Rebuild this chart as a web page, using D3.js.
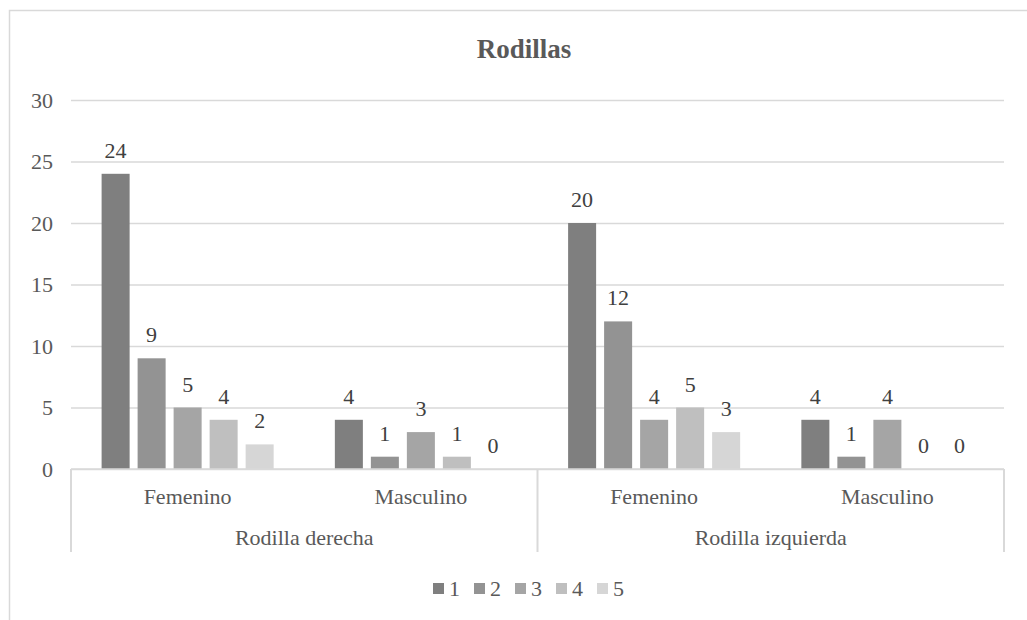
<!DOCTYPE html>
<html>
<head>
<meta charset="utf-8">
<script src="https://cdn.jsdelivr.net/npm/d3@7"></script>
<style>
  html, body { margin: 0; padding: 0; background: #fff; }
</style>
</head>
<body>
<script>
// Chart data
const title = "Rodillas";
const groupLabels = ["Rodilla derecha", "Rodilla izquierda"];
const categoryLabels = ["Femenino", "Masculino", "Femenino", "Masculino"];
const seriesNames = ["1", "2", "3", "4", "5"];
const serie1 = [24, 4, 20, 4];
const serie2 = [9, 1, 12, 1];
const serie3 = [5, 3, 4, 4];
const serie4 = [4, 1, 5, 0];
const serie5 = [2, 0, 3, 0];
const yTicks = [0, 5, 10, 15, 20, 25, 30];

const seriesValues = [serie1, serie2, serie3, serie4, serie5];
const colors = ["#7f7f7f", "#939393", "#a5a5a5", "#bfbfbf", "#d6d6d6"];

const W = 1027, H = 620;
const plot = { left: 71, right: 1004, top: 100, bottom: 469 };
const textColor = "#595959";
const lineColor = "#d9d9d9";
const FONT = "'Liberation Serif'";
const FS = 22;

const svg = d3.select("body").append("svg").attr("width", W).attr("height", H);

function label(g, x, y, txt, opts = {}) {
  return g.append("text")
    .attr("x", x).attr("y", y)
    .attr("text-anchor", opts.anchor || "middle")
    .attr("fill", opts.color || textColor)
    .style("font-family", FONT)
    .style("font-size", (opts.size || FS) + "px")
    .style("font-weight", opts.weight || "normal")
    .text(txt);
}

// Outer chart border
svg.append("rect")
  .attr("x", 9.5).attr("y", 10.5)
  .attr("width", 1040).attr("height", 640)
  .attr("fill", "none").attr("stroke", lineColor).attr("stroke-width", 1.5);

// Scales
const x0 = d3.scaleBand()
  .domain(d3.range(categoryLabels.length))
  .range([plot.left, plot.right])
  .padding(0);

const x1 = d3.scaleBand()
  .domain(seriesNames)
  .range([0, x0.bandwidth()])
  .paddingInner(0.222)
  .paddingOuter(0.85);

const y = d3.scaleLinear().domain([0, 30]).range([plot.bottom, plot.top]);

// Gridlines and value axis labels
const yAxis = d3.axisLeft(y).tickValues(yTicks).tickSize(-(plot.right - plot.left)).tickPadding(18);
const gy = svg.append("g").attr("transform", `translate(${plot.left},0)`).call(yAxis);
gy.attr("font-family", null).attr("font-size", null);
gy.select(".domain").remove();
gy.selectAll(".tick line").attr("stroke", lineColor).attr("stroke-width", 1.5);
gy.selectAll(".tick text")
  .attr("fill", textColor)
  .style("font-family", FONT)
  .style("font-size", FS + "px");

// Bars with value labels
const barsG = svg.append("g");
seriesNames.forEach((s, si) => {
  seriesValues[si].forEach((v, ci) => {
    const bx = x0(ci) + x1(s);
    barsG.append("rect")
      .attr("x", bx)
      .attr("y", y(v))
      .attr("width", x1.bandwidth())
      .attr("height", y(0) - y(v))
      .attr("fill", colors[si]);
    label(barsG, bx + x1.bandwidth() / 2, y(v) - 16, v, { color: "#404040" });
  });
});

// Category axis line
svg.append("line")
  .attr("x1", plot.left).attr("x2", plot.right)
  .attr("y1", plot.bottom).attr("y2", plot.bottom)
  .attr("stroke", lineColor).attr("stroke-width", 1.5);

// Group separators of the two-level category axis
const sepBottom = 552;
const groupEdges = [0, 2, 4].map(i => i < categoryLabels.length ? x0(i) : plot.right);
groupEdges.forEach(gx => {
  svg.append("line")
    .attr("x1", gx).attr("x2", gx)
    .attr("y1", plot.bottom).attr("y2", sepBottom)
    .attr("stroke", lineColor).attr("stroke-width", 2);
});

// Category labels
categoryLabels.forEach((c, ci) => {
  label(svg, x0(ci) + x0.bandwidth() / 2, 504, c);
});

// Group labels
groupLabels.forEach((g, gi) => {
  label(svg, x0(gi * 2) + x0.bandwidth(), 545, g);
});

// Title
label(svg, 524, 58, title, { size: 27, weight: "bold" });

// Legend
const legendStep = 41;
const legendStart = 433;
const legend = svg.append("g");
seriesNames.forEach((s, si) => {
  const lx = legendStart + si * legendStep;
  legend.append("rect")
    .attr("x", lx).attr("y", 583)
    .attr("width", 11).attr("height", 11)
    .attr("fill", colors[si]);
  label(legend, lx + 16, 596, s, { anchor: "start" });
});
</script>
</body>
</html>
